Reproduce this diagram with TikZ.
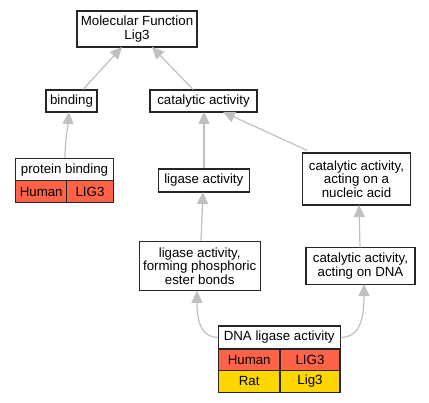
\documentclass[tikz,border=0pt]{standalone}
\usepackage{fontspec}
\setmainfont{Liberation Sans}
\usetikzlibrary{arrows.meta}
\definecolor{edgegray}{HTML}{C0C0C0}
\definecolor{human}{HTML}{FF6347}
\definecolor{rat}{HTML}{FFD700}
\tikzset{
  box/.style={draw=black!85, line width=1.1pt, fill=white, inner sep=0pt, align=center,
    font=\fontsize{13.3}{13.4}\selectfont},
  cell/.style={box},
  edge/.style={draw=edgegray, line width=1.2pt, -{Triangle[length=12pt,width=11pt]}},
}
\begin{document}
\begin{tikzpicture}[x=1pt,y=-1pt]
\useasboundingbox (0,0) rectangle (429,403);
\node[box, minimum width=120pt, minimum height=36pt] (mf) at (137,29) {Molecular Function\\Lig3};
\node[box, minimum width=51pt, minimum height=22pt] (bind) at (71.5,101) {binding};
\node[box, minimum width=107pt, minimum height=22pt] (cat) at (203.5,101) {catalytic activity};
\node[box, minimum width=97.6pt, minimum height=22.7pt] (pb) at (64.5,169.7) {protein binding};
\node[cell, fill=human, minimum width=51pt, minimum height=21.7pt] (pbh) at (41.2,191.8) {Human};
\node[cell, fill=human, minimum width=46.6pt, minimum height=21.7pt] (pbg) at (90,191.8) {LIG3};
\node[box, minimum width=91pt, minimum height=23pt] (lig) at (203.8,180.5) {ligase activity};
\node[box, minimum width=108.4pt, minimum height=52pt] (nuc) at (356.5,179) {catalytic activity,\\acting on a\\nucleic acid};
\node[box, minimum width=120.7pt, minimum height=49.7pt] (lfp) at (199.7,266) {ligase activity,\\forming phosphoric\\ester bonds};
\node[box, minimum width=109pt, minimum height=36.3pt] (dnab) at (360.5,266) {catalytic activity,\\acting on DNA};
\node[box, minimum width=121.7pt, minimum height=23pt] (dna) at (279.2,337.5) {DNA ligase activity};
\node[cell, fill=human, minimum width=61.7pt, minimum height=21.7pt] (dh) at (249.2,360) {Human};
\node[cell, fill=human, minimum width=60pt, minimum height=21.7pt] (dg) at (310,360) {LIG3};
\node[cell, fill=rat, minimum width=61.7pt, minimum height=21.7pt] (rh) at (249.2,381.3) {Rat};
\node[cell, fill=rat, minimum width=60pt, minimum height=21.7pt] (rg) at (310,381.3) {Lig3};

\draw[edge] ([xshift=11.5pt]bind.north) -- ([xshift=-15pt,yshift=0.6pt]mf.south);
\draw[edge] ([xshift=-10.5pt]cat.north) -- ([xshift=15pt,yshift=0.6pt]mf.south);
\draw[edge] ([xshift=0.5pt]pb.north) .. controls (65,140) and (68,125) .. ([xshift=-2.5pt,yshift=0.6pt]bind.south);
\draw[edge] ([xshift=0.2pt]lig.north) -- ([xshift=0.5pt,yshift=0.6pt]cat.south);
\draw[edge] ([xshift=5.5pt,yshift=2pt]nuc.north west) -- ([xshift=19.5pt,yshift=0.6pt]cat.south);
\draw[edge] ([xshift=1.3pt]lfp.north) -- ([xshift=-0.8pt,yshift=0.6pt]lig.south);
\draw[edge] ([xshift=-0.5pt]dnab.north) -- ([xshift=2.5pt,yshift=0.6pt]nuc.south);
\draw[edge] (dna.west) .. controls (203,337) and (197,325) .. ([xshift=-2.7pt,yshift=0.6pt]lfp.south);
\draw[edge] (dna.east) .. controls (357,337) and (364,325) .. ([xshift=3.5pt,yshift=0.6pt]dnab.south);
\end{tikzpicture}
\end{document}
